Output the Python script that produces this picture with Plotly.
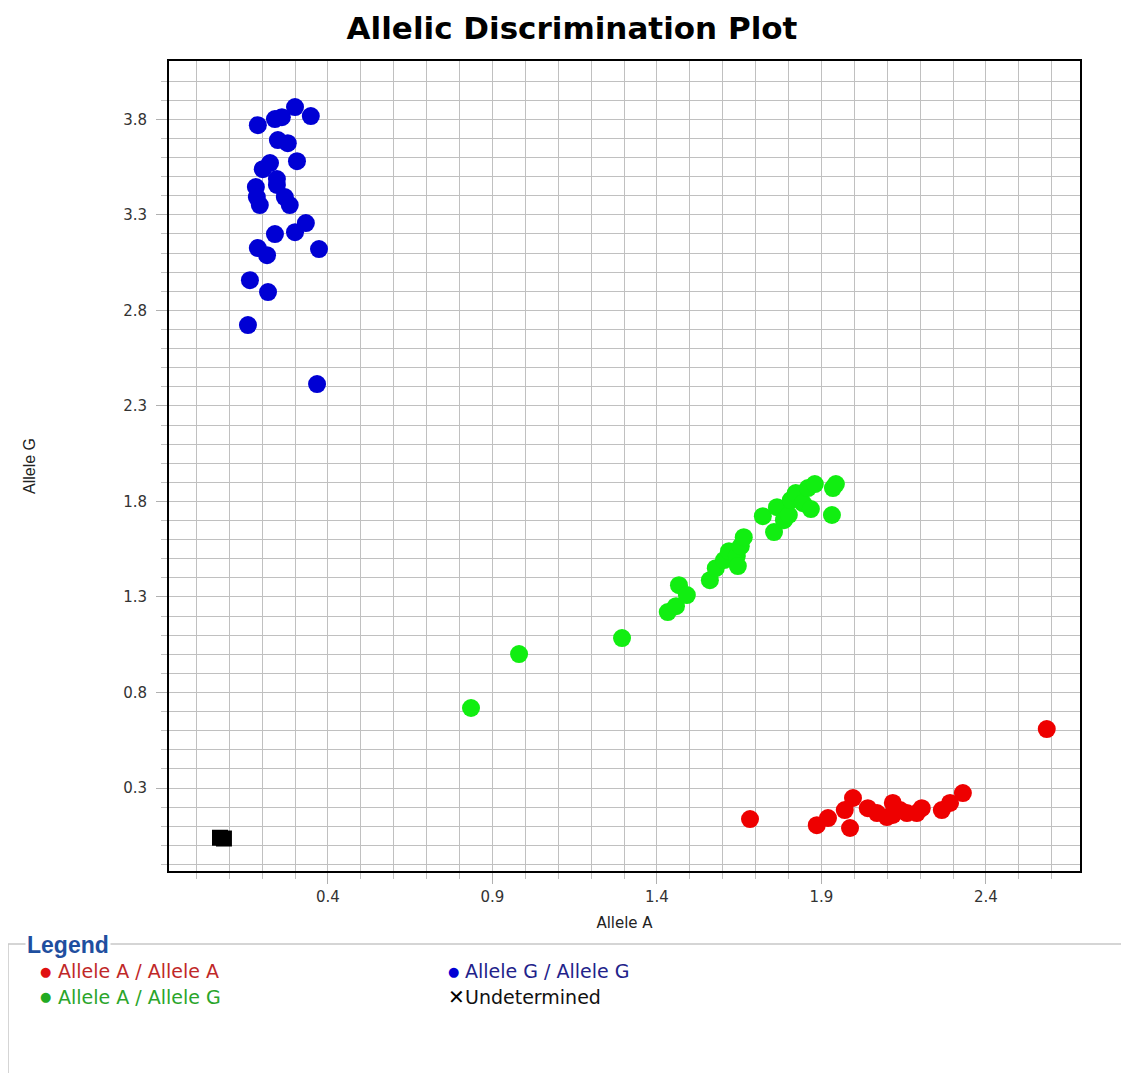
import plotly.graph_objects as go

# ---- data ----
aa_x = [1.683, 1.886, 1.920, 1.987, 1.971, 1.996, 2.041, 2.069, 2.099, 2.117,
        2.139, 2.117, 2.160, 2.190, 2.205, 2.266, 2.291, 2.330, 2.585]
aa_y = [0.138, 0.106, 0.143, 0.091, 0.185, 0.248, 0.195, 0.169, 0.148, 0.222,
        0.185, 0.159, 0.169, 0.169, 0.195, 0.185, 0.222, 0.274, 0.609]

ag_x = [0.835, 0.981, 1.294, 1.433, 1.458, 1.467, 1.491, 1.561, 1.579, 1.604,
        1.619, 1.643, 1.655, 1.664, 1.646, 1.722, 1.756, 1.765, 1.786, 1.801,
        1.807, 1.822, 1.844, 1.859, 1.880, 1.868, 1.935, 1.944, 1.932]
ag_y = [0.719, 1.001, 1.085, 1.221, 1.252, 1.362, 1.310, 1.388, 1.451, 1.493,
        1.540, 1.514, 1.566, 1.613, 1.462, 1.723, 1.640, 1.770, 1.702, 1.729,
        1.807, 1.844, 1.791, 1.870, 1.891, 1.760, 1.870, 1.891, 1.729]

gg_x = [0.300, 0.348, 0.187, 0.239, 0.260, 0.248, 0.278, 0.306, 0.224, 0.202,
        0.245, 0.245, 0.181, 0.184, 0.269, 0.284, 0.193, 0.333, 0.300, 0.239,
        0.187, 0.215, 0.373, 0.163, 0.218, 0.157, 0.367]
gg_y = [3.864, 3.817, 3.769, 3.801, 3.811, 3.691, 3.675, 3.581, 3.571, 3.539,
        3.487, 3.456, 3.445, 3.393, 3.393, 3.351, 3.351, 3.257, 3.209, 3.199,
        3.126, 3.089, 3.121, 2.958, 2.896, 2.723, 2.414]

und_x = [0.072, 0.084]
und_y = [0.040, 0.036]

x_tick_vals = [0.4, 0.9, 1.4, 1.9, 2.4]
x_tick_text = ["0.4", "0.9", "1.4", "1.9", "2.4"]
y_tick_vals = [0.3, 0.8, 1.3, 1.8, 2.3, 2.8, 3.3, 3.8]
y_tick_text = ["0.3", "0.8", "1.3", "1.8", "2.3", "2.8", "3.3", "3.8"]
x_grid_vals = [0.0, 0.1, 0.2, 0.3, 0.5, 0.6, 0.7, 0.8, 1.0, 1.1, 1.2, 1.3,
               1.5, 1.6, 1.7, 1.8, 2.0, 2.1, 2.2, 2.3, 2.5, 2.6]
y_grid_vals = [-0.1, 0.0, 0.1, 0.2, 0.4, 0.5, 0.6, 0.7, 0.9, 1.0, 1.1, 1.2,
               1.4, 1.5, 1.6, 1.7, 1.9, 2.0, 2.1, 2.2, 2.4, 2.5, 2.6, 2.7,
               2.9, 3.0, 3.1, 3.2, 3.4, 3.5, 3.6, 3.7, 3.9, 4.0]

legend_labels = ["Allele A / Allele A", "Allele G / Allele G",
                 "Allele A / Allele G", "Undetermined"]

RED = "#ee0000"
GREEN = "#11ee11"
BLUE = "#0000d4"

OFF = 8  # page body margin
W, H = 1129, 1073
L, R, T, B = 169 - OFF, 1080 - OFF, 61 - OFF, 871 - OFF


def px(xp):
    return (xp - OFF - L) / (R - L)


def py(yp):
    return (B - (yp - OFF)) / (B - T)


fig = go.Figure()
fig.add_trace(go.Scatter(x=aa_x, y=aa_y, mode="markers", name=legend_labels[0],
                         marker=dict(color=RED, size=18, line=dict(width=0))))
fig.add_trace(go.Scatter(x=ag_x, y=ag_y, mode="markers", name=legend_labels[2],
                         marker=dict(color=GREEN, size=18, line=dict(width=0))))
fig.add_trace(go.Scatter(x=gg_x, y=gg_y, mode="markers", name=legend_labels[1],
                         marker=dict(color=BLUE, size=18, line=dict(width=0))))
fig.add_trace(go.Scatter(x=und_x, y=und_y, mode="markers", name=legend_labels[3],
                         marker=dict(color="black", size=16, symbol="square",
                                     line=dict(width=0))))

TICKFONT = dict(family="DejaVu Sans, Verdana", size=15, color="#333333")
axis_common = dict(
    showline=True, linecolor="black", linewidth=2, mirror=True,
    showgrid=True, gridcolor="#c0c0c0", gridwidth=1,
    ticks="outside", ticklen=11, tickcolor="#b0b0b0", tickwidth=1,
    zeroline=False, tickfont=TICKFONT, tickmode="array",
)
minor_common = dict(tickmode="array", showgrid=True, gridcolor="#c0c0c0", gridwidth=1,
                    ticks="outside", ticklen=6, tickcolor="#c0c0c0", tickwidth=1)

fig.update_xaxes(
    range=[-0.083, 2.686], tickvals=x_tick_vals, ticktext=x_tick_text,
    minor=dict(tickvals=x_grid_vals, **minor_common),
    title=dict(text="Allele A", standoff=12,
               font=dict(family="DejaVu Sans, Verdana", size=15, color="#222222")),
    **axis_common)
fig.update_yaxes(
    range=[-0.134, 4.105], tickvals=y_tick_vals, ticktext=y_tick_text,
    ticklabelstandoff=6,
    minor=dict(tickvals=y_grid_vals, **minor_common),
    title=dict(text="Allele G", standoff=84,
               font=dict(family="Liberation Sans Narrow, Liberation Sans", size=16,
                         color="#222222")),
    **axis_common)

# legend fieldset box
fig.add_shape(type="rect", xref="paper", yref="paper",
              x0=px(8), y0=py(1100), x1=px(1145), y1=py(944),
              line=dict(color="#c8c8c8", width=1.5), fillcolor="rgba(0,0,0,0)")

ann = [dict(text="<b>Legend</b>", x=px(25), y=py(945), xref="paper", yref="paper",
            xanchor="left", yanchor="middle", showarrow=False, bgcolor="white",
            font=dict(family="Liberation Sans, Arial", size=23, color="#1f4f9f"))]

# (symbol, symbol colour, text colour, label, symbol centre x, text left x, row y)
items = [
    ("●", "#e01010", "#c02828", legend_labels[0], 45, 56, 971),
    ("●", BLUE, "#22228a", legend_labels[1], 453, 463, 971),
    ("●", "#22aa22", "#2aa52a", legend_labels[2], 45, 56, 997),
    ("✕", "black", "#111111", legend_labels[3], 456, 463, 997),
]
for sym, scol, tcol, label, sx, tx, yp in items:
    ssize = 13 if sym == "●" else 20
    ann.append(dict(text=sym if sym == "●" else "<b>" + sym + "</b>",
                    x=px(sx), y=py(yp), xref="paper", yref="paper",
                    xanchor="center", yanchor="middle", showarrow=False,
                    font=dict(family="DejaVu Sans", size=ssize, color=scol)))
    ann.append(dict(text=label, x=px(tx), y=py(yp), xref="paper", yref="paper",
                    xanchor="left", yanchor="middle", showarrow=False,
                    font=dict(family="DejaVu Sans, Verdana", size=19, color=tcol)))
fig.update_layout(annotations=ann)

fig.update_layout(
    width=W, height=H,
    margin=dict(l=L, r=W - R, t=T, b=H - B),
    paper_bgcolor="white", plot_bgcolor="white",
    showlegend=False,
    title=dict(text="<b>Allelic Discrimination Plot</b>", x=(572 - OFF) / W,
               xanchor="center", y=1 - (28 - OFF) / H, yanchor="middle",
               font=dict(family="DejaVu Sans, Verdana", size=31, color="black")),
)

fig.write_html("out.html")
